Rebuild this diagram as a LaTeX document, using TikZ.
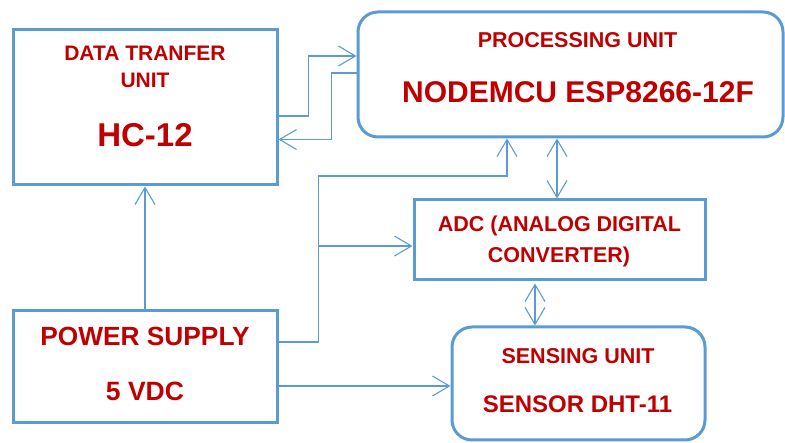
\documentclass[tikz,border=0pt]{standalone}
\usepackage{fontspec}
\setmainfont{Liberation Sans}
\usetikzlibrary{arrows.meta}
\definecolor{boxblue}{HTML}{5B9BD5}
\definecolor{txtred}{HTML}{C00000}
\tikzset{
  blk/.style={draw=boxblue, line width=3pt, inner sep=0pt, fill=white},
  rblk/.style={blk, rounded corners=20pt},
  conn/.style={draw=boxblue, line width=1.3pt, -{Straight Barb[length=17pt,width=20pt,line width=1.1pt]}},
  dconn/.style={draw=boxblue, line width=1.3pt, {Straight Barb[length=17pt,width=20pt,line width=1.1pt]}-{Straight Barb[length=17pt,width=20pt,line width=1.1pt]}},
  lbl/.style={text=txtred, font=\bfseries, inner sep=0pt, anchor=base}
}
\begin{document}
\begin{tikzpicture}[x=1pt,y=-1pt]
\useasboundingbox (0,0) rectangle (785,443);
% boxes
\node[blk, minimum width=264pt, minimum height=155pt] (dt) at (145,107.5) {};
\node[rblk, minimum width=425pt, minimum height=125pt] (pu) at (570.5,74.5) {};
\node[blk, minimum width=291pt, minimum height=80pt] (adc) at (559.5,240) {};
\node[rblk, minimum width=253pt, minimum height=113pt] (sen) at (578.5,383.5) {};
\node[blk, minimum width=264pt, minimum height=112pt] (ps) at (145,367) {};
% labels
\node[lbl, font=\bfseries\fontsize{21}{25}\selectfont] (dt1) at (145,61) {DATA TRANFER};
\node[lbl, font=\bfseries\fontsize{21}{25}\selectfont] (dt2) at (145,88) {UNIT};
\node[lbl, font=\bfseries\fontsize{33}{38}\selectfont] (dt3) at (145,147) {HC-12};
\node[lbl, font=\bfseries\fontsize{21.5}{25}\selectfont] (pu1) at (577.5,48) {PROCESSING UNIT};
\node[lbl, font=\bfseries\fontsize{30}{35}\selectfont] (pu2) at (578,103) {NODEMCU ESP8266-12F};
\node[lbl, font=\bfseries\fontsize{21.5}{25}\selectfont] (adc1) at (559.5,232) {ADC (ANALOG DIGITAL};
\node[lbl, font=\bfseries\fontsize{21.5}{25}\selectfont] (adc2) at (559,263) {CONVERTER)};
\node[lbl, font=\bfseries\fontsize{21.5}{25}\selectfont] (sen1) at (578,364) {SENSING UNIT};
\node[lbl, font=\bfseries\fontsize{24}{28}\selectfont] (sen2) at (577.5,413) {SENSOR DHT-11};
\node[lbl, font=\bfseries\fontsize{26.3}{30}\selectfont] (ps1) at (145,346) {POWER SUPPLY};
\node[lbl, font=\bfseries\fontsize{26.5}{30}\selectfont] (ps2) at (145,401) {5 VDC};
% connectors
\draw[conn] ([yshift=-8.5pt]dt.east) -- ++(30pt,0) |- ([yshift=18.5pt]pu.west);
\draw[conn] ([yshift=1.5pt]pu.west) -- ++(-25pt,0) |- ([yshift=-32pt]dt.east);
\draw[conn] (ps.north) -- (dt.south);
\draw[conn] ([yshift=25pt]ps.east) -- ++(40pt,0) coordinate (j1) -- ++(0,166pt) -| ([xshift=-63.5pt]pu.south);
\coordinate (a1) at ([yshift=-6pt]adc.west);
\draw[conn] (j1 |- a1) -- (a1);
\coordinate (p2) at ([yshift=-19pt]ps.east);
\draw[conn] (p2) -- (p2 -| sen.west);
\draw[dconn] ([xshift=-2.5pt]adc.north) -- ([xshift=-2.5pt]adc.north |- pu.south);
\draw[dconn] ([xshift=-24.5pt,yshift=-2pt]adc.south) -- ([xshift=-24.5pt]adc.south |- sen.north);
\end{tikzpicture}
\end{document}
